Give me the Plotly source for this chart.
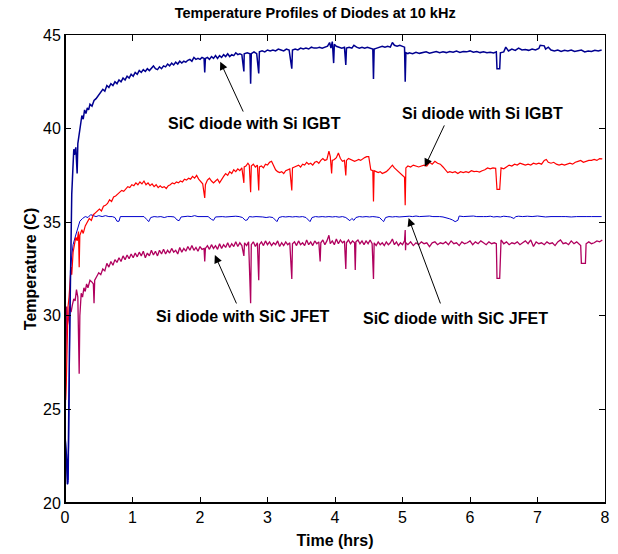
import plotly.graph_objects as go

# ---- SiC diode with Si IGBT (navy) ----
t_sic_igbt = [0.00,0.02,0.035,0.05,0.065,0.08,0.09,0.10,0.11,0.12,0.13,0.14,0.16,0.17,0.18,0.19,0.21,0.23,0.25,0.27,0.29,0.31,0.33,0.35,0.37,0.40,0.43,0.46,0.50,0.53,0.56,0.59,0.62,0.65,0.68,0.71,0.74,0.77,0.80,0.83,0.86,0.89,0.92,0.95,0.98,1.01,1.04,1.07,1.10,1.13,1.16,1.19,1.22,1.25,1.28,1.31,1.34,1.37,1.40,1.43,1.46,1.49,1.52,1.55,1.58,1.61,1.64,1.67,1.70,1.73,1.76,1.79,1.82,1.85,1.88,1.91,1.94,1.97,2.00,2.03,2.06,2.07,2.08,2.11,2.14,2.17,2.20,2.23,2.26,2.29,2.32,2.35,2.38,2.41,2.44,2.47,2.50,2.53,2.56,2.59,2.62,2.65,2.655,2.70,2.74,2.75,2.76,2.80,2.84,2.87,2.88,2.92,2.96,3.00,3.04,3.08,3.12,3.16,3.20,3.24,3.28,3.32,3.36,3.37,3.41,3.45,3.49,3.53,3.57,3.61,3.65,3.69,3.73,3.77,3.81,3.85,3.89,3.92,3.94,3.96,3.98,3.99,4.02,4.06,4.10,4.14,4.16,4.17,4.21,4.25,4.28,4.32,4.36,4.40,4.44,4.48,4.52,4.56,4.57,4.58,4.62,4.66,4.70,4.74,4.78,4.82,4.85,4.88,4.92,4.96,5.00,5.03,5.04,5.05,5.08,5.10,5.15,5.20,5.25,5.30,5.35,5.40,5.45,5.50,5.55,5.60,5.65,5.70,5.75,5.80,5.85,5.90,5.95,6.00,6.05,6.10,6.15,6.20,6.25,6.30,6.35,6.39,6.40,6.44,6.45,6.50,6.53,6.57,6.62,6.67,6.72,6.77,6.82,6.87,6.92,6.97,7.02,7.04,7.10,7.12,7.16,7.20,7.25,7.30,7.35,7.40,7.45,7.50,7.55,7.60,7.65,7.70,7.75,7.80,7.85,7.90,7.95]
T_sic_igbt = [23.5,22.6,21.0,23.0,28.0,32.5,34.5,36.5,37.3,38.2,38.9,38.6,39.0,38.3,37.6,39.2,39.8,40.1,40.7,40.5,41.0,40.8,41.1,41.0,41.3,41.2,41.5,41.6,41.8,41.9,42.1,42.0,42.3,42.2,42.4,42.3,42.5,42.4,42.6,42.5,42.7,42.6,42.8,42.7,42.9,42.8,43.0,42.9,43.1,43.0,43.15,43.05,43.2,43.1,43.25,43.35,43.2,43.15,43.3,43.2,43.35,43.3,43.45,43.35,43.5,43.4,43.55,43.45,43.6,43.5,43.6,43.55,43.65,43.7,43.6,43.8,43.7,43.75,43.7,43.8,43.75,43.0,43.75,43.8,43.7,43.85,43.75,43.9,43.75,43.9,43.8,43.95,43.85,44.0,43.85,43.95,43.9,44.05,43.95,44.0,43.95,43.05,44.0,44.05,44.0,42.4,44.0,44.1,44.0,42.95,44.1,44.15,44.1,44.2,44.15,44.2,44.15,44.25,44.2,44.15,44.25,44.2,43.2,44.2,44.25,44.2,44.3,44.25,44.3,44.25,44.35,44.3,44.3,44.35,44.3,44.35,44.4,44.6,44.3,44.65,43.5,44.5,44.4,44.35,44.3,44.35,43.4,44.3,44.35,44.3,44.45,44.35,44.3,44.35,44.3,44.35,44.3,44.25,42.65,44.25,44.3,44.35,44.4,44.35,44.4,44.35,44.6,44.45,44.4,44.45,44.4,44.35,42.5,44.05,44.0,44.05,44.0,44.08,44.02,44.06,44.1,44.03,44.08,44.12,44.05,44.1,44.06,44.12,44.08,44.14,44.07,44.12,44.1,44.15,44.08,44.12,44.06,44.1,44.05,44.08,44.04,44.1,43.2,43.2,44.05,44.1,44.35,44.15,44.25,44.18,44.3,44.2,44.22,44.18,44.25,44.2,44.28,44.45,44.42,44.25,44.35,44.2,44.15,44.2,44.12,44.18,44.15,44.2,44.12,44.15,44.2,44.1,44.15,44.12,44.18,44.15,44.2]

# ---- Si diode with Si IGBT (red) ----
t_si_igbt = [0.00,0.01,0.02,0.03,0.045,0.06,0.075,0.09,0.10,0.12,0.14,0.16,0.18,0.20,0.21,0.22,0.25,0.27,0.30,0.33,0.36,0.39,0.42,0.45,0.48,0.51,0.54,0.57,0.60,0.63,0.66,0.69,0.72,0.75,0.78,0.81,0.84,0.87,0.90,0.93,0.96,0.99,1.02,1.05,1.08,1.11,1.14,1.17,1.20,1.23,1.26,1.29,1.32,1.35,1.38,1.41,1.44,1.47,1.50,1.53,1.56,1.59,1.62,1.65,1.68,1.71,1.74,1.77,1.80,1.83,1.86,1.89,1.92,1.95,1.98,2.01,2.04,2.07,2.08,2.11,2.14,2.17,2.20,2.23,2.26,2.29,2.32,2.35,2.38,2.41,2.44,2.47,2.50,2.53,2.56,2.59,2.62,2.65,2.655,2.68,2.71,2.73,2.75,2.76,2.79,2.82,2.85,2.87,2.88,2.91,2.94,2.97,3.00,3.03,3.06,3.09,3.12,3.15,3.18,3.21,3.24,3.27,3.30,3.33,3.36,3.37,3.40,3.43,3.46,3.49,3.52,3.55,3.58,3.61,3.64,3.67,3.70,3.73,3.76,3.79,3.82,3.85,3.88,3.91,3.93,3.95,3.96,3.99,4.02,4.05,4.08,4.11,4.14,4.16,4.17,4.20,4.23,4.26,4.29,4.32,4.35,4.38,4.41,4.44,4.47,4.50,4.53,4.56,4.57,4.58,4.61,4.64,4.67,4.70,4.73,4.76,4.79,4.82,4.85,4.88,4.91,4.94,4.97,5.00,5.03,5.04,5.05,5.08,5.12,5.16,5.20,5.24,5.28,5.32,5.36,5.40,5.44,5.48,5.52,5.56,5.60,5.64,5.67,5.70,5.74,5.78,5.82,5.86,5.90,5.94,5.98,6.02,6.06,6.10,6.14,6.18,6.22,6.26,6.30,6.34,6.38,6.40,6.44,6.46,6.50,6.54,6.58,6.62,6.66,6.70,6.74,6.78,6.82,6.86,6.90,6.94,6.98,7.02,7.06,7.10,7.13,7.16,7.20,7.24,7.28,7.32,7.36,7.40,7.44,7.48,7.52,7.56,7.60,7.64,7.68,7.72,7.76,7.80,7.84,7.88,7.92,7.96]
T_si_igbt = [27.0,25.5,26.5,29.0,30.5,31.0,31.8,32.6,32.2,33.4,33.8,34.2,34.0,34.5,32.6,34.3,34.6,34.4,34.8,35.0,35.2,35.1,35.4,35.5,35.6,35.7,35.6,35.85,35.9,36.0,36.2,36.1,36.35,36.4,36.5,36.6,36.7,36.65,36.8,36.9,36.85,37.0,36.95,37.1,37.0,37.15,37.05,37.2,37.0,37.1,36.95,37.05,36.9,37.0,36.85,36.95,36.85,36.9,36.8,36.95,37.0,37.1,37.05,37.15,37.1,37.2,37.15,37.3,37.25,37.35,37.3,37.45,37.35,37.5,37.3,37.15,37.05,36.3,37.0,37.25,37.35,37.2,37.1,37.2,37.3,37.1,37.3,37.45,37.6,37.5,37.7,37.6,37.8,37.7,37.85,37.75,37.9,37.1,37.95,38.0,38.15,38.05,36.6,38.0,38.1,37.95,38.05,36.7,37.95,38.0,37.9,38.1,38.05,38.2,38.25,38.0,37.8,37.7,37.65,37.7,37.6,37.75,37.8,37.85,36.7,37.9,37.95,38.0,38.05,37.95,38.1,38.05,38.2,38.1,38.15,38.05,38.2,38.25,38.15,38.3,38.4,38.3,38.35,38.8,38.5,37.6,38.3,38.35,38.45,38.7,38.4,38.25,38.3,37.5,38.3,38.4,38.35,38.3,38.25,38.3,38.35,38.3,38.4,38.45,38.5,38.5,37.8,37.75,36.1,37.75,37.7,37.65,37.7,37.6,37.65,37.7,37.8,37.9,38.05,37.9,37.8,37.65,37.55,37.45,37.4,35.9,37.9,38.0,37.95,38.05,38.0,37.95,38.0,38.05,38.0,38.2,38.1,38.25,38.15,38.1,37.95,37.8,37.65,37.7,37.65,37.7,37.6,37.7,37.65,37.7,37.65,37.75,37.7,37.72,37.68,37.75,37.8,37.9,37.85,37.9,37.88,36.75,36.75,37.9,37.85,37.95,38.05,38.0,38.1,38.05,38.15,38.1,38.05,38.1,38.05,38.15,38.1,38.15,38.1,38.3,38.35,38.2,38.15,38.2,38.1,38.05,38.1,38.05,38.1,38.15,38.1,38.2,38.25,38.3,38.2,38.25,38.3,38.3,38.35,38.3,38.4,38.38]

# ---- SiC diode with SiC JFET (blue) ----
t_sic_jfet = [0.00,0.01,0.02,0.03,0.04,0.05,0.06,0.07,0.08,0.10,0.12,0.15,0.18,0.22,0.26,0.30,0.34,0.38,0.42,0.46,0.50,0.55,0.60,0.65,0.70,0.74,0.77,0.80,0.82,0.87,0.92,0.97,1.02,1.07,1.12,1.17,1.21,1.24,1.27,1.32,1.37,1.42,1.47,1.52,1.57,1.62,1.66,1.69,1.72,1.77,1.82,1.87,1.92,1.97,2.02,2.07,2.12,2.17,2.20,2.23,2.28,2.33,2.38,2.43,2.48,2.53,2.58,2.63,2.67,2.70,2.73,2.78,2.83,2.88,2.93,2.98,3.03,3.08,3.12,3.14,3.17,3.22,3.27,3.32,3.37,3.42,3.47,3.52,3.57,3.61,3.63,3.66,3.71,3.76,3.81,3.86,3.91,3.96,4.01,4.06,4.11,4.16,4.20,4.22,4.25,4.28,4.31,4.36,4.41,4.46,4.51,4.56,4.61,4.66,4.70,4.72,4.75,4.80,4.85,4.90,4.95,5.00,5.05,5.10,5.15,5.20,5.25,5.30,5.35,5.40,5.45,5.50,5.55,5.60,5.65,5.70,5.74,5.78,5.82,5.84,5.90,5.95,6.00,6.05,6.10,6.15,6.20,6.25,6.30,6.35,6.40,6.45,6.50,6.55,6.60,6.65,6.68,6.72,6.78,6.85,6.92,7.00,7.05,7.12,7.20,7.28,7.35,7.42,7.50,7.58,7.65,7.72,7.80,7.88,7.95]
T_sic_jfet = [24.0,23.0,22.0,21.8,21.0,21.2,25.0,29.5,32.4,33.2,33.8,34.2,34.6,35.05,35.2,35.3,35.25,35.4,35.35,35.3,35.35,35.3,35.35,35.3,35.3,35.25,35.05,35.05,35.3,35.3,35.32,35.28,35.3,35.3,35.28,35.3,35.15,35.03,35.25,35.3,35.28,35.3,35.25,35.3,35.3,35.28,35.12,35.08,35.28,35.3,35.32,35.3,35.35,35.3,35.3,35.28,35.3,35.15,35.1,35.28,35.3,35.3,35.28,35.3,35.3,35.32,35.3,35.25,35.1,35.12,35.3,35.28,35.3,35.3,35.28,35.25,35.28,35.25,35.1,35.03,35.25,35.3,35.28,35.3,35.28,35.3,35.28,35.3,35.25,35.1,35.03,35.25,35.3,35.28,35.3,35.28,35.3,35.28,35.3,35.27,35.3,35.25,35.12,35.08,35.2,35.1,35.25,35.3,35.28,35.3,35.28,35.3,35.28,35.25,35.1,35.03,35.25,35.3,35.28,35.3,35.28,35.3,35.3,35.32,35.3,35.33,35.3,35.32,35.3,35.33,35.3,35.32,35.3,35.28,35.25,35.18,35.12,35.03,35.1,35.33,35.3,35.32,35.3,35.33,35.3,35.32,35.3,35.3,35.32,35.28,35.3,35.28,35.32,35.3,35.28,35.2,35.3,35.32,35.3,35.32,35.3,35.33,35.3,35.28,35.3,35.32,35.3,35.3,35.28,35.3,35.32,35.3,35.3,35.28,35.3]

# ---- Si diode with SiC JFET (crimson) ----
t_si_jfet = [0.00,0.01,0.015,0.025,0.035,0.05,0.07,0.09,0.11,0.13,0.15,0.17,0.19,0.20,0.21,0.22,0.24,0.26,0.28,0.30,0.32,0.34,0.37,0.40,0.42,0.43,0.44,0.47,0.50,0.53,0.56,0.59,0.62,0.65,0.68,0.71,0.74,0.77,0.80,0.83,0.86,0.89,0.92,0.95,0.98,1.01,1.04,1.07,1.10,1.13,1.16,1.19,1.22,1.25,1.28,1.31,1.34,1.37,1.40,1.43,1.46,1.49,1.52,1.55,1.58,1.61,1.64,1.67,1.70,1.73,1.76,1.79,1.82,1.85,1.88,1.91,1.94,1.97,2.00,2.03,2.06,2.07,2.08,2.11,2.14,2.17,2.20,2.23,2.26,2.29,2.32,2.35,2.38,2.41,2.44,2.47,2.50,2.53,2.56,2.59,2.62,2.65,2.66,2.69,2.72,2.75,2.76,2.79,2.82,2.85,2.87,2.88,2.91,2.94,2.97,3.00,3.03,3.06,3.09,3.12,3.15,3.18,3.21,3.24,3.27,3.30,3.33,3.36,3.37,3.40,3.43,3.46,3.49,3.52,3.55,3.58,3.61,3.64,3.67,3.70,3.73,3.76,3.78,3.79,3.82,3.85,3.88,3.91,3.93,3.96,3.99,4.02,4.05,4.08,4.11,4.14,4.16,4.17,4.20,4.23,4.26,4.29,4.30,4.31,4.34,4.37,4.40,4.43,4.46,4.49,4.52,4.55,4.57,4.58,4.61,4.64,4.67,4.70,4.73,4.76,4.79,4.82,4.85,4.88,4.91,4.94,4.97,5.00,5.03,5.04,5.045,5.05,5.08,5.12,5.16,5.20,5.24,5.28,5.32,5.36,5.40,5.44,5.48,5.52,5.56,5.60,5.64,5.68,5.72,5.76,5.80,5.84,5.88,5.92,5.96,6.00,6.04,6.08,6.12,6.16,6.20,6.24,6.28,6.32,6.36,6.39,6.40,6.44,6.46,6.50,6.54,6.58,6.62,6.66,6.70,6.74,6.78,6.82,6.86,6.90,6.94,6.98,7.02,7.06,7.10,7.14,7.18,7.22,7.26,7.30,7.34,7.38,7.42,7.46,7.50,7.54,7.58,7.62,7.64,7.65,7.71,7.72,7.76,7.80,7.84,7.88,7.92,7.96]
T_si_jfet = [23.7,26.0,28.2,30.5,29.5,29.8,30.5,30.2,30.6,30.9,30.8,31.4,31.0,29.0,26.9,30.0,31.2,31.0,31.5,31.3,31.7,31.5,31.9,31.8,31.7,30.67,31.9,32.1,32.3,32.2,32.5,32.4,32.8,32.6,32.9,32.7,33.0,32.85,33.1,32.9,33.2,33.0,33.25,33.05,33.3,33.1,33.35,33.15,33.4,33.2,33.45,33.1,33.35,33.2,33.5,33.25,33.45,33.2,33.5,33.3,33.55,33.3,33.5,33.35,33.6,33.4,33.5,33.3,33.65,33.4,33.6,33.45,33.7,33.5,33.75,33.5,33.65,33.45,33.7,33.55,33.6,32.9,33.6,33.75,33.55,33.8,33.6,33.75,33.55,33.85,33.6,33.8,33.65,33.9,33.65,33.85,33.7,33.95,33.7,33.9,33.75,33.2,33.9,33.75,33.95,30.67,33.8,33.95,33.7,33.9,31.9,33.8,33.95,33.75,34.0,33.8,33.95,33.75,33.9,33.8,34.0,33.7,33.9,33.75,33.95,33.8,33.9,31.97,33.85,33.95,33.75,34.0,33.8,33.9,33.75,34.05,33.8,33.95,33.75,34.0,33.85,33.95,32.9,33.9,34.05,33.8,34.0,34.3,33.85,34.0,33.8,34.1,33.85,34.05,33.9,34.0,32.5,33.9,34.05,33.85,34.0,33.9,32.45,33.95,34.05,33.85,34.0,33.8,34.0,33.85,34.05,33.85,31.97,33.9,33.75,33.95,33.8,33.9,33.75,33.95,33.8,33.9,34.1,33.8,33.95,33.75,33.9,33.8,34.0,34.58,33.5,33.9,33.8,33.95,33.75,33.9,33.8,33.95,33.85,33.9,33.7,33.9,33.95,33.8,33.9,33.85,33.95,33.8,34.0,33.85,33.9,33.75,33.95,33.85,33.9,34.0,33.8,33.95,33.85,34.0,33.9,33.8,33.95,33.85,33.9,33.85,32.0,32.0,34.05,33.85,33.95,33.8,33.9,33.85,33.95,33.8,33.9,34.0,33.85,34.05,33.7,33.95,33.85,33.9,33.8,33.95,33.85,33.9,33.75,33.95,34.05,33.85,33.9,33.8,34.0,33.85,33.95,33.8,33.75,32.8,32.8,33.85,33.95,33.85,33.9,34.0,33.95,34.05]

x_ticks = [0, 1, 2, 3, 4, 5, 6, 7, 8]
y_ticks = [20, 25, 30, 35, 40, 45]

FONT = "Liberation Sans, Arial, sans-serif"

fig = go.Figure()
fig.add_trace(go.Scatter(x=t_sic_jfet, y=T_sic_jfet, mode="lines",
                         line=dict(color="#0000CC", width=1), name="SiC diode with SiC JFET"))
fig.add_trace(go.Scatter(x=t_si_jfet, y=T_si_jfet, mode="lines",
                         line=dict(color="#B0005E", width=1.3), name="Si diode with SiC JFET"))
fig.add_trace(go.Scatter(x=t_si_igbt, y=T_si_igbt, mode="lines",
                         line=dict(color="#FF0000", width=1.2), name="Si diode with Si IGBT"))
fig.add_trace(go.Scatter(x=t_sic_igbt, y=T_sic_igbt, mode="lines",
                         line=dict(color="#000090", width=1.5), name="SiC diode with Si IGBT"))

labels = [
    # text, text x, text y, head x, head y, tail x, tail y
    ("SiC diode with Si IGBT", 2.80, 40.25, 2.30, 43.57, 2.65, 40.83),
    ("Si diode with Si IGBT", 6.19, 40.83, 5.33, 37.96, 5.63, 40.25),
    ("Si diode with SiC JFET", 2.64, 29.94, 2.22, 33.25, 2.55, 30.58),
    ("SiC diode with SiC JFET", 5.79, 29.88, 5.09, 35.22, 5.57, 30.58),
]
for txt, tx, ty, hx, hy, sx, sy in labels:
    fig.add_annotation(x=tx, y=ty, xref="x", yref="y", text="<b>%s</b>" % txt,
                       showarrow=False, font=dict(family=FONT, size=16, color="black"))
    fig.add_annotation(x=hx, y=hy, ax=sx, ay=sy, xref="x", yref="y", axref="x", ayref="y",
                       text="", showarrow=True, arrowhead=2, arrowsize=1.6,
                       arrowwidth=1, arrowcolor="black")

fig.update_layout(
    width=618, height=554,
    margin=dict(l=65, r=13, t=35, b=51, autoexpand=False),
    paper_bgcolor="white", plot_bgcolor="white",
    showlegend=False,
    title=dict(text="<b>Temperature Profiles of Diodes at 10 kHz</b>", x=0.51, xanchor="center",
               y=0.9765, yanchor="middle", font=dict(family=FONT, size=14.5, color="black")),
    font=dict(family=FONT, color="black"),
)
fig.update_xaxes(range=[0, 8], tickvals=x_ticks, ticks="inside", ticklen=6, tickcolor="black",
                 showline=True, linecolor="black", linewidth=1, mirror="ticks", automargin=False,
                 showgrid=False, zeroline=False, tickfont=dict(size=16),
                 title=dict(text="<b>Time (hrs)</b>", font=dict(size=16), standoff=9))
fig.update_yaxes(range=[20, 45], tickvals=y_ticks, ticks="inside", ticklen=6, tickcolor="black",
                 showline=True, linecolor="black", linewidth=1, mirror="ticks", automargin=False,
                 showgrid=False, zeroline=False, tickfont=dict(size=16),
                 title=dict(text="<b>Temperature (C)</b>", font=dict(size=16), standoff=2))
fig.add_shape(type="line", xref="paper", yref="paper", x0=0, x1=0, y0=0, y1=1,
              line=dict(color="black", width=2))
fig.add_shape(type="line", xref="paper", yref="paper", x0=0, x1=1, y0=0, y1=0,
              line=dict(color="black", width=2))

# remove the default 8px page margin so the figure fills the window exactly
fig.write_html("out.html", config={"displayModeBar": False},
               post_script="document.body.style.margin='0px';")
